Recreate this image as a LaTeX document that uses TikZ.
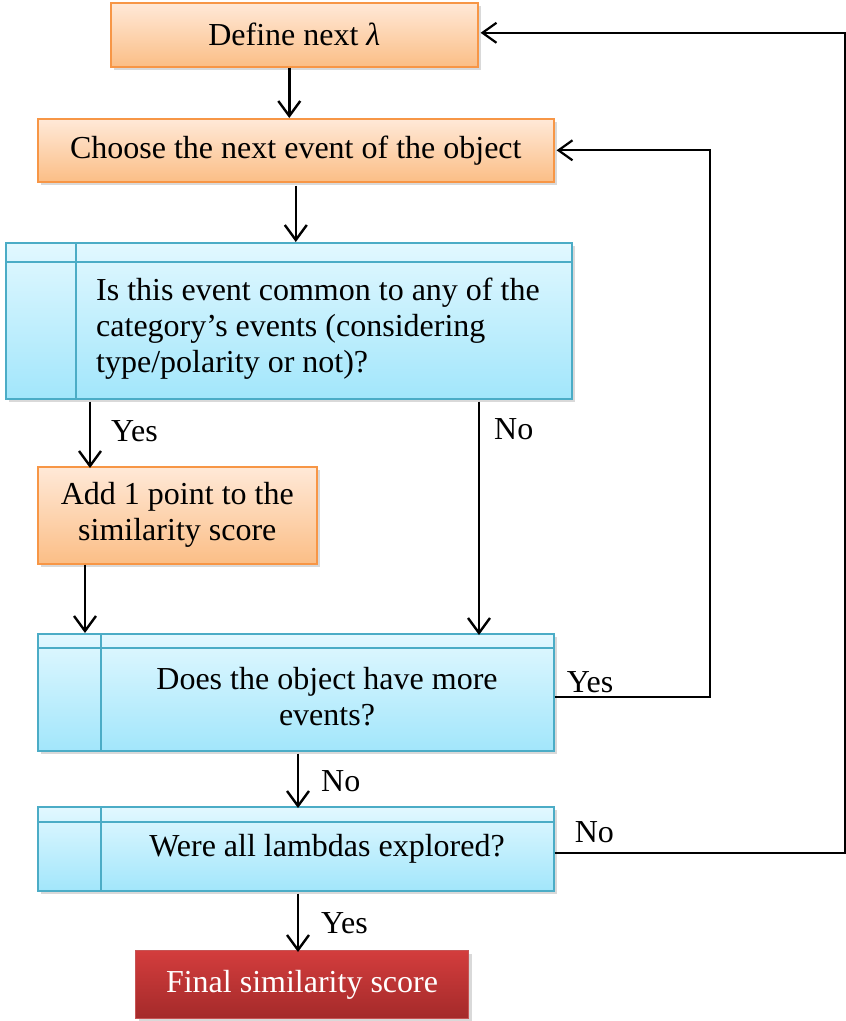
\documentclass[tikz,border=0pt]{standalone}
\usepackage{fontspec}
\setmainfont{Liberation Serif}
\usetikzlibrary{arrows.meta,shadows}

\definecolor{orTop}{HTML}{FFE9D8}
\definecolor{orBot}{HTML}{FBBE86}
\definecolor{orLine}{HTML}{F79646}
\definecolor{blTop}{HTML}{E2F8FF}
\definecolor{blBot}{HTML}{A2E6FB}
\definecolor{blLine}{HTML}{4BACC6}
\definecolor{rdTop}{HTML}{D33D3D}
\definecolor{rdBot}{HTML}{A42A2A}
\definecolor{rdLine}{HTML}{C65454}

\tikzset{
  txt/.style={font=\fontsize{32}{36}\selectfont, inner sep=0pt},
  base/.style={draw, line width=1.6pt, inner sep=0pt, txt,
    drop shadow={opacity=0.3, shadow xshift=3pt, shadow yshift=-3pt}},
  orangebox/.style={base, draw=orLine, top color=orTop, bottom color=orBot, align=center},
  bluebox/.style={base, draw=blLine, top color=blTop, bottom color=blBot},
  redbox/.style={base, draw=rdLine, line width=1pt, top color=rdTop, bottom color=rdBot, text=white},
  divider/.style={draw=blLine, line width=1.6pt},
  arr/.style={draw, line width=2.4pt, -{Straight Barb[length=15pt,width=22pt,line width=2.4pt]}},
  loop/.style={draw, line width=2pt, -{Straight Barb[length=14pt,width=20pt,line width=2.2pt]}},
  lbl/.style={txt}
}

\begin{document}
\begin{tikzpicture}[x=1pt,y=-1pt]
  \useasboundingbox (0,0) rectangle (846,1021);

  % process boxes
  \node[orangebox, minimum width=367pt, minimum height=64pt, anchor=north west] (b1) at (110,2) {Define next \textit{λ}};
  \node[orangebox, minimum width=516pt, minimum height=63pt, anchor=north west] (b2) at (37,118) {Choose the next event of the object};

  % first decision
  \node[bluebox, minimum width=566pt, minimum height=156pt, anchor=north west] (d1) at (5,242) {};
  \draw[divider] (5,262) -- (571,262);
  \draw[divider] (76,242) -- (76,398);
  \node[txt, align=left, anchor=west] (t1) at (96,329) {Is this event common to any of the\\category’s events (considering\\type/polarity or not)?};

  \node[orangebox, minimum width=279pt, minimum height=97pt, anchor=north west] (a1) at (37,466) {Add 1 point to the\\similarity score};

  % second decision
  \node[bluebox, minimum width=516pt, minimum height=117pt, anchor=north west] (d2) at (37,633) {};
  \draw[divider] (37,648) -- (553,648);
  \draw[divider] (101,633) -- (101,750);
  \node[txt, align=center] (t2) at (327,697) {Does the object have more\\events?};

  % third decision
  \node[bluebox, minimum width=516pt, minimum height=84pt, anchor=north west] (d3) at (37,806) {};
  \draw[divider] (37,822) -- (553,822);
  \draw[divider] (101,806) -- (101,890);
  \node[txt] (t3) at (327,849) {Were all lambdas explored?};

  \node[redbox, minimum width=333pt, minimum height=68pt, anchor=north west] (f) at (135,950) {Final similarity score};

  % connectors
  \draw[arr] ([xshift=-5pt]b1.south) -- ([xshift=-5pt]b1.south |- b2.north);
  \draw[arr] ([yshift=-3pt]b2.south) -- (b2.south |- d1.north);
  \draw[arr] ([xshift=85pt,yshift=-2pt]d1.south west) -- ([xshift=85pt,yshift=-2pt]d1.south west |- a1.north)
    node[lbl, pos=0.45, right=20pt] (y1) {Yes};
  \draw[arr] ([xshift=474pt,yshift=-2pt]d1.south west) -- ([xshift=474pt,yshift=-2pt]d1.south west |- d2.north)
    node[lbl, pos=0.12, right=14pt] (n1) {No};
  \draw[arr] ([xshift=48pt]a1.south west) -- ([xshift=48pt]a1.south west |- d2.north);
  \draw[loop] ([yshift=-5pt]d2.east) -- ++(155,0) |- ([xshift=2pt]b2.east);
  \node[lbl, anchor=south west] (y2) at ([xshift=12pt,yshift=-1pt]d2.east) {Yes};
  \draw[arr] ([xshift=261pt,yshift=-2pt]d2.south west) -- ([xshift=261pt,yshift=-2pt]d2.south west |- d3.north)
    node[lbl, midway, right=22pt] (n2) {No};
  \draw[loop] ([yshift=-4pt]d3.east) -- ++(290,0) |- ([xshift=2pt,yshift=2pt]b1.east);
  \node[lbl, anchor=south west] (n3) at ([xshift=20pt,yshift=6pt]d3.east) {No};
  \draw[arr] ([xshift=261pt,yshift=-2pt]d3.south west) -- ([xshift=261pt,yshift=-2pt]d3.south west |- f.north)
    node[lbl, midway, right=22pt] (y3) {Yes};
\end{tikzpicture}
\end{document}
